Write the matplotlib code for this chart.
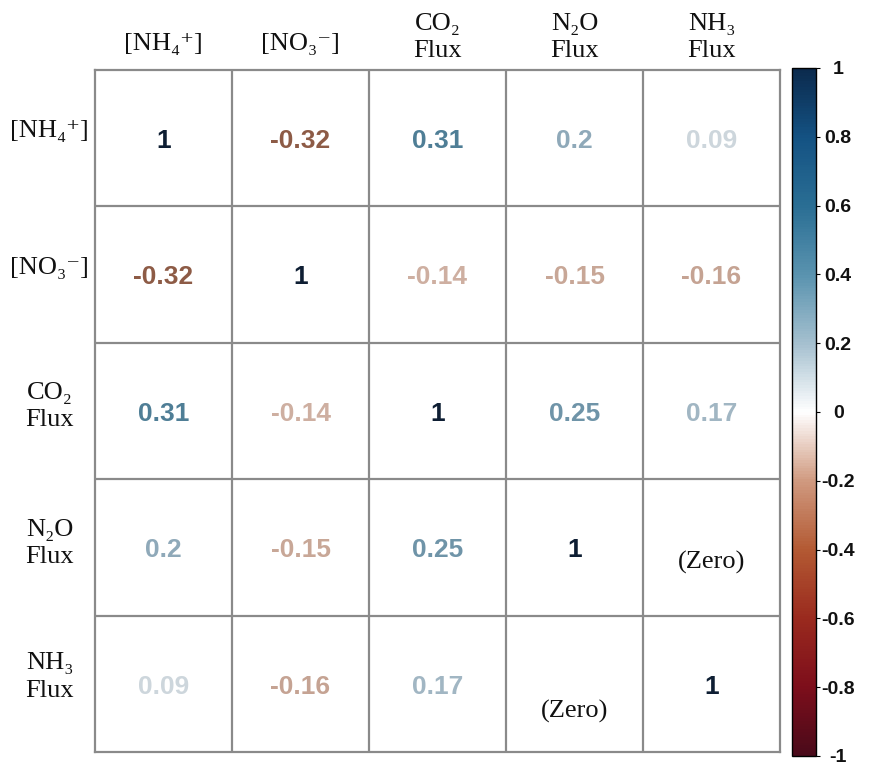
import numpy as np
import matplotlib
matplotlib.use("Agg")
import matplotlib.pyplot as plt
from matplotlib.colors import LinearSegmentedColormap, Normalize
from matplotlib.cm import ScalarMappable

# ---- data ----
row_labels = ["[NH₄⁺]", "[NO₃⁻]", "CO₂\nFlux", "N₂O\nFlux", "NH₃\nFlux"]
col_labels = ["[NH₄⁺]", "[NO₃⁻]", "CO₂\nFlux", "N₂O\nFlux", "NH₃\nFlux"]
corr = np.array([
    [1.00, -0.32, 0.31, 0.20, 0.09],
    [-0.32, 1.00, -0.14, -0.15, -0.16],
    [0.31, -0.14, 1.00, 0.25, 0.17],
    [0.20, -0.15, 0.25, 1.00, 0.00],
    [0.09, -0.16, 0.17, 0.00, 1.00],
])
value_labels = [
    ["1", "-0.32", "0.31", "0.2", "0.09"],
    ["-0.32", "1", "-0.14", "-0.15", "-0.16"],
    ["0.31", "-0.14", "1", "0.25", "0.17"],
    ["0.2", "-0.15", "0.25", "1", "0"],
    ["0.09", "-0.16", "0.17", "0", "1"],
]
zero_notes = [(3, 4), (4, 3)]  # (row, col) cells annotated "(Zero)"
cbar_ticks = [-1, -0.8, -0.6, -0.4, -0.2, 0, 0.2, 0.4, 0.6, 0.8, 1]
cbar_ticklabels = ["-1", "-0.8", "-0.6", "-0.4", "-0.2", "0", "0.2", "0.4", "0.6", "0.8", "1"]

# colormap approximating the reference colour bar
anchors = ["#4a0a1a", "#7d0e1b", "#9a2a1e", "#b35a33", "#d09a80", "#ffffff",
           "#a5c0cf", "#5a93af", "#2a6e94", "#145283", "#0b2a4d"]
cmap = LinearSegmentedColormap.from_list("rdbu_ref", anchors)
# muted variant used for the numbers inside the cells
text_anchors = [(0.0, "#3a0a14"), (0.2, "#6e2a1a"), (0.34, "#8c5a45"),
                (0.425, "#c9a898"), (0.5, "#ffffff"), (0.545, "#cdd6dc"),
                (0.6, "#8fa9b9"), (0.655, "#4f7e96"), (0.8, "#1f4f70"),
                (1.0, "#0e1e33")]
text_cmap = LinearSegmentedColormap.from_list("text_ref", text_anchors)
norm = Normalize(-1, 1)

label_family = ["Liberation Serif", "STIXGeneral", "DejaVu Serif"]

fig = plt.figure(figsize=(8.81, 7.76), dpi=100)
ax = fig.add_axes([95 / 881, 24 / 776, 685 / 881, 682 / 776])
n = len(row_labels)
ax.set_xlim(-0.5, n - 0.5)
ax.set_ylim(n - 0.5, -0.5)
ax.set_xticks([])
ax.set_yticks([])
for s in ax.spines.values():
    s.set_color("#8a8a8a")
    s.set_linewidth(1.6)
for k in range(1, n):
    ax.axhline(k - 0.5, color="#8a8a8a", lw=1.6)
    ax.axvline(k - 0.5, color="#8a8a8a", lw=1.6)

for i in range(n):
    for j in range(n):
        if (i, j) in zero_notes:
            continue
        ax.text(j, i + 0.02, value_labels[i][j], ha="center", va="center",
                fontsize=19, fontweight="bold", family="Liberation Sans",
                color=text_cmap(norm(corr[i, j])))

for (i, j) in zero_notes:
    dy = 0.11 if i == 3 else 0.2
    ax.text(j, i + dy, "(Zero)", ha="center", va="center", fontsize=19,
            family=label_family, color="#111111")

# column labels on top
for j, lab in enumerate(col_labels):
    y = -0.74 if "\n" in lab else -0.69
    ax.text(j, y, lab, ha="center", va="center", fontsize=19,
            family=label_family, color="#111111", linespacing=1.3,
            clip_on=False)

# row labels on left
for i, lab in enumerate(row_labels):
    y = i - 0.05 if i in (0, 1, 4) else i - 0.03
    ax.text(-0.83, y, lab, ha="center", va="center", fontsize=19,
            family=label_family, color="#111111", linespacing=1.3,
            clip_on=False)

# colour bar
cax = fig.add_axes([792 / 881, 20 / 776, 24 / 881, 688 / 776])
sm = ScalarMappable(norm=norm, cmap=cmap)
cb = fig.colorbar(sm, cax=cax, ticks=cbar_ticks)
cb.ax.set_yticklabels(cbar_ticklabels)
cb.outline.set_edgecolor("black")
cb.outline.set_linewidth(1.0)
cax.tick_params(axis="y", length=3, width=0.8, pad=13, labelsize=14)
for t in cax.get_yticklabels():
    t.set_horizontalalignment("center")
    t.set_fontfamily("Liberation Sans")
    t.set_fontweight("bold")
    t.set_color("#111111")

fig.savefig("out.png", dpi=100, facecolor="white")
